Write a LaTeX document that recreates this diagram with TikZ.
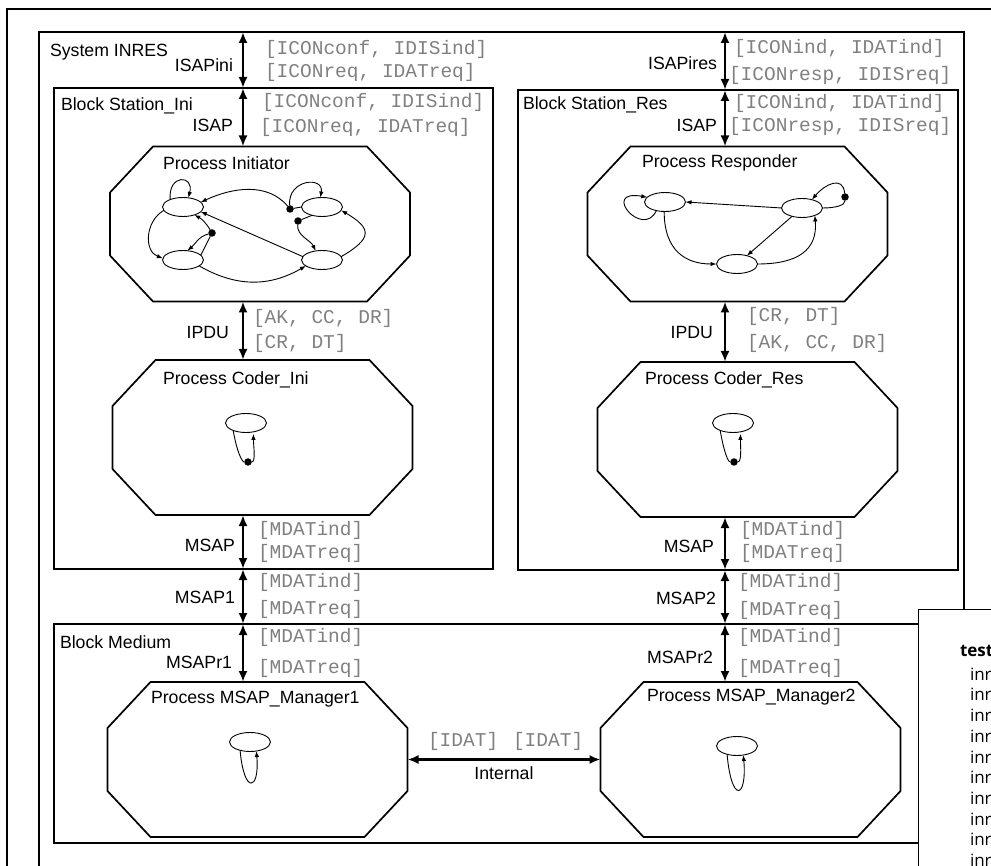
\documentclass[tikz,border=0pt]{standalone}
\usepackage{fontspec}
\setmainfont{Liberation Sans}
\newfontfamily\sigfont{Liberation Mono}
\newfontfamily\notefont{Open Sans}
\usetikzlibrary{shapes.geometric,arrows.meta,calc}
\tikzset{
    every node/.style={inner sep=0pt, outer sep=0pt}
}
\tikzset{
    pageframe/.style={draw, line width=1.1pt, anchor=north west},
    blk/.style={draw, line width=1.7pt, anchor=north west},
    proc/.style={minimum width=300pt, minimum height=155pt},
    procline/.style={line width=1.7pt, line join=miter},
    st/.style={draw, ellipse, line width=0.9pt, minimum width=41pt,
        minimum height=19pt},
    bdot/.style={circle, fill, minimum size=7.5pt},
    lbl/.style={font=\fontsize{17.7}{20}\selectfont},
    sig/.style={font=\sigfont\fontsize{19.5}{22}\selectfont, text=black!50,
        anchor=west},
    note/.style={font=\notefont\fontsize{17}{20}\selectfont, anchor=west}
}
\tikzset{
    chan/.style={line width=2.3pt,
        {Latex[length=11pt,width=9pt]}-{Latex[length=11pt,width=9pt]}},
    trans/.style={line width=0.9pt, -{Latex[length=6pt,width=4.5pt]}},
    plainline/.style={line width=0.9pt}
}
% octagon round a process node
\newcommand{\octa}[1]{%
    \draw[procline] ($(#1.north west)+(43,0)$) -- ($(#1.north east)+(-43,0)$)
        -- ($(#1.north east)+(0,-46)$) -- ($(#1.south east)+(0,46)$)
        -- ($(#1.south east)+(-43,0)$) -- ($(#1.south west)+(43,0)$)
        -- ($(#1.south west)+(0,46)$) -- ($(#1.north west)+(0,-46)$)
        -- cycle;}

\begin{document}
\begin{tikzpicture}[x=1pt,y=1pt]
	\useasboundingbox (0,0) rectangle (991,-866);
	\clip (0,0) rectangle (991,-866);

	% frames and blocks
	\node (page) [pageframe, minimum width=1100pt, minimum height=1000pt] at (7,-9) {};
	\node (sys) [blk, minimum width=925pt, minimum height=900pt] at (39,-32) {};
	\node (stini) [blk, minimum width=439pt, minimum height=481pt] at (54,-88) {};
	\node (stres) [blk, minimum width=440pt, minimum height=480pt] at (518,-90) {};
	\node (medium) [blk, minimum width=904pt, minimum height=219pt] at (54,-624) {};

	% processes
	\node (init) [proc] at (260,-224) {};
	\node (codini) [proc] at (262.5,-437.5) {};
	\node (resp) [proc] at (737.5,-224) {};
	\node (codres) [proc] at (747.5,-439.5) {};
	\node (mgr1) [proc] at (257.5,-759.5) {};
	\node (mgr2) [proc] at (750.5,-759.5) {};
	\foreach \p in {init,codini,resp,codres,mgr1,mgr2}
		\octa{\p};

	\node (lsys) [lbl, anchor=west] at (50,-52) {System INRES};
	\node (lstini) [lbl, anchor=west] at (61,-106) {Block Station\_Ini};
	\node (lstres) [lbl, anchor=west] at (523,-105) {Block Station\_Res};
	\node (lmedium) [lbl, anchor=west] at (60,-642) {Block Medium};
	\node (linit) [lbl, anchor=west] at (163,-163) {Process Initiator};
	\node (lresp) [lbl, anchor=west] at (642,-163) {Process Responder};
	\node (lcodini) [lbl, anchor=west] at (163,-380) {Process Coder\_Ini};
	\node (lcodres) [lbl, anchor=west] at (645,-380) {Process Coder\_Res};
	\node (lmgr1) [lbl, anchor=west] at (151,-699) {Process MSAP\_Manager1};
	\node (lmgr2) [lbl, anchor=west] at (647,-697) {Process MSAP\_Manager2};

	% channels
	\coordinate (lx) at (243,0);
	\coordinate (rx) at (725,0);
	\draw[chan] (sys.north -| lx) -- (stini.north -| lx);
	\draw[chan] (stini.north -| lx) -- (init.north -| lx);
	\draw[chan] (init.south -| lx) -- (codini.north -| lx);
	\draw[chan] (codini.south -| lx) -- (stini.south -| lx);
	\draw[chan] (stini.south -| lx) -- (medium.north -| lx);
	\draw[chan] (medium.north -| lx) -- (mgr1.north -| lx);
	\draw[chan] (sys.north -| rx) -- (stres.north -| rx);
	\draw[chan] (stres.north -| rx) -- (resp.north -| rx);
	\draw[chan] (resp.south -| rx) -- (codres.north -| rx);
	\draw[chan] (codres.south -| rx) -- (stres.south -| rx);
	\draw[chan] (stres.south -| rx) -- (medium.north -| rx);
	\draw[chan] (medium.north -| rx) -- (mgr2.north -| rx);
	\draw[chan] (mgr1.east) -- (mgr2.west);

	\node (pisapini) [lbl, anchor=east] at (233,-65) {ISAPini};
	\node (pisapl) [lbl, anchor=east] at (233,-125) {ISAP};
	\node (pipdul) [lbl, anchor=east] at (229,-332) {IPDU};
	\node (pmsapl) [lbl, anchor=east] at (235,-545) {MSAP};
	\node (pmsap1) [lbl, anchor=east] at (235,-597) {MSAP1};
	\node (pmsapr1) [lbl, anchor=east] at (232,-662) {MSAPr1};
	\node (pisapires) [lbl, anchor=east] at (717,-63) {ISAPires};
	\node (pisapr) [lbl, anchor=east] at (717,-125) {ISAP};
	\node (pipdur) [lbl, anchor=east] at (713,-332) {IPDU};
	\node (pmsapr) [lbl, anchor=east] at (714,-546) {MSAP};
	\node (pmsap2) [lbl, anchor=east] at (716,-598) {MSAP2};
	\node (pmsapr2) [lbl, anchor=east] at (713,-657) {MSAPr2};
	\node (pinternal) [lbl] at (504,-773) {Internal};

	% signal lists
	\node (s1) [sig] at (265,-49) {[ICONconf, IDISind]};
	\node (s2) [sig] at (265,-72) {[ICONreq, IDATreq]};
	\node (s3) [sig] at (262,-102) {[ICONconf, IDISind]};
	\node (s4) [sig] at (260,-127) {[ICONreq, IDATreq]};
	\node (s5) [sig] at (253,-318) {[AK, CC, DR]};
	\node (s6) [sig] at (253,-343) {[CR, DT]};
	\node (s7) [sig] at (258,-530) {[MDATind]};
	\node (s8) [sig] at (258,-553) {[MDATreq]};
	\node (s9) [sig] at (258,-582) {[MDATind]};
	\node (s10) [sig] at (258,-609) {[MDATreq]};
	\node (s11) [sig] at (258,-637) {[MDATind]};
	\node (s12) [sig] at (258,-668) {[MDATreq]};
	\node (r1) [sig] at (734,-48) {[ICONind, IDATind]};
	\node (r2) [sig] at (729,-75) {[ICONresp, IDISreq]};
	\node (r3) [sig] at (734,-103) {[ICONind, IDATind]};
	\node (r4) [sig] at (729,-126) {[ICONresp, IDISreq]};
	\node (r5) [sig] at (747,-316) {[CR, DT]};
	\node (r6) [sig] at (747,-343) {[AK, CC, DR]};
	\node (r7) [sig] at (740,-530) {[MDATind]};
	\node (r8) [sig] at (740,-553) {[MDATreq]};
	\node (r9) [sig] at (738,-582) {[MDATind]};
	\node (r10) [sig] at (738,-610) {[MDATreq]};
	\node (r11) [sig] at (738,-637) {[MDATind]};
	\node (r12) [sig] at (738,-668) {[MDATreq]};
	\node (i1) [sig] at (428,-741) {[IDAT]};
	\node (i2) [sig] at (513,-741) {[IDAT]};

	% Initiator states
	\node (ia) [st] at (183,-207) {};
	\node (ib) [st] at (183,-260) {};
	\node (ic) [st] at (322,-207) {};
	\node (id) [st] at (322,-260) {};
	\node (p1) [bdot] at (290,-209) {};
	\node (p2) [bdot] at (298,-221) {};
	\node (p3) [bdot] at (212,-233) {};
	\draw[trans] (ia.150) .. controls +(95:26) and +(75:24) .. (ia.60);
	\draw[plainline] (ic.west) -- (p1);
	\draw[trans] (p1) .. controls +(95:30) and +(80:22) .. (ic.100);
	\draw[trans] (p1) .. controls +(130:35) and +(25:35) .. (ia.15);
	\draw[plainline] (ic.220) -- (p2);
	\draw[trans] (p2) .. controls +(-95:15) and +(115:12) .. (id.125);
	\draw[trans] (id.170) -- (ia.-15);
	\draw[trans] (ia.190) .. controls +(210:22) and +(160:20) .. (ib.175);
	\draw[plainline] (ib.15) -- (p3);
	\draw[trans] (p3) to[bend right=15] (ia.-35);
	\draw[trans] (p3) to[out=195,in=40] (ib.65);
	\draw[trans] (ib.-20) .. controls +(-30:45) and +(210:40) .. (id.200);
	\draw[trans] (id.10) .. controls +(30:36) and +(-30:36) .. (ic.-10);

	% Responder states
	\node (ra) [st] at (665,-202) {};
	\node (rb) [st] at (802,-208) {};
	\node (rc) [st] at (737,-264) {};
	\node (p4) [bdot] at (845,-197) {};
	\draw[trans] (ra.-135) .. controls +(-115:32) and +(170:48) .. (ra.165);
	\draw[trans] (rb.west) -- (ra.east);
	\draw[trans] (rb.-140) -- (rc.40);
	\draw[trans] (ra.-95) .. controls +(-90:40) and +(180:30) .. (rc.west);
	\draw[trans] (rc.east) .. controls +(0:40) and +(-85:35) .. (rb.-30);
	\draw[plainline] (rb.east) .. controls +(0:14) and +(-90:8) .. (p4);
	\draw[trans] (p4) .. controls +(95:22) and +(50:20) .. (rb.40);

	% coders and managers
	\node (ca) [st] at (246,-423) {};
	\node (p5) [bdot] at (248,-462) {};
	\draw[plainline] (ca.-150) .. controls +(-80:22) and +(180:6) .. (p5);
	\draw[trans, shorten >=2pt] (p5) .. controls +(0:8) and +(-90:14) .. (ca.-50);
	\node (cb) [st] at (733,-423) {};
	\node (p6) [bdot] at (734,-462) {};
	\draw[plainline] (cb.-150) .. controls +(-80:22) and +(180:6) .. (p6);
	\draw[trans, shorten >=2pt] (p6) .. controls +(0:8) and +(-90:14) .. (cb.-50);
	\node (ma) [st] at (250,-742) {};
	\draw[trans] (ma.-140) .. controls +(-85:45) and +(-85:40) .. (ma.-55);
	\node (mb) [st] at (737,-746) {};
	\draw[trans] (mb.-140) .. controls +(-85:50) and +(-85:44) .. (mb.-55);

	% side panel
	\node (panel) [draw, fill=white, line width=1pt, anchor=north west,
		minimum width=200pt, minimum height=300pt] at (918,-609) {};
	\node (ptest) [note] at (960,-651) {\bfseries test};
	\foreach \k in {0,...,9}
		\node (pinr\k) [note] at (970,{-674-20.7*\k}) {inr};
\end{tikzpicture}
\end{document}
